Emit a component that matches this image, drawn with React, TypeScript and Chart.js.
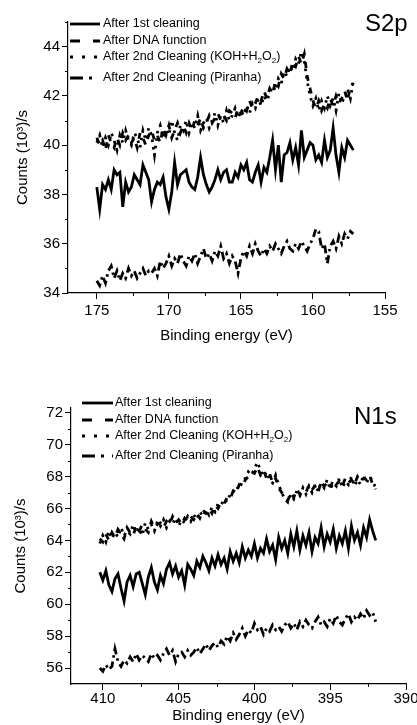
import React, { useEffect, useRef } from "react";
import { Chart, registerables } from "chart.js";

Chart.register(...registerables);

const FONT = '"Liberation Sans", Arial, Helvetica, sans-serif';

const SERIES_LABELS = [
  "After 1st cleaning",
  "After DNA function",
  "After 2nd Cleaning (KOH+H₂O₂)",
  "After 2nd Cleaning (Piranha)",
];
const LEGEND_DASH: number[][] = [[], [10, 13], [3, 9], [13, 6, 3, 8]];
const DATA_DASH: number[][] = [[], [6, 7], [2.5, 5], [8, 4, 2.5, 4]];

// ---------------- S2p ----------------
const S2P_START = 175.0;
const S2P_STEP = 0.2;
const S2P_FIRST = [
  38.3, 37.4, 38.4, 38.2, 38.6, 38.2, 39.0, 38.8, 38.9, 37.5,
  38.5, 38.1, 38.3, 38.8, 38.6, 38.4, 39.2, 38.9, 38.6, 37.7,
  38.2, 38.5, 38.4, 38.7, 37.9, 37.4, 38.1, 39.3, 38.4, 38.8,
  38.9, 39.0, 38.5, 38.3, 38.2, 38.7, 39.5, 38.8, 38.4, 38.1,
  38.3, 38.6, 39.0, 38.6, 38.9, 39.0, 38.5, 38.5, 38.9, 38.7,
  39.2, 39.0, 39.3, 38.6, 38.5, 38.9, 39.2, 38.5, 39.1, 38.9,
  39.5, 40.2, 39.0, 40.0, 38.5, 39.6, 39.7, 40.1, 39.4, 39.9,
  39.2, 40.6, 39.5, 39.8, 40.1, 40.0, 39.4, 39.6, 39.3, 40.2,
  39.5, 39.8, 40.7, 39.6, 38.9, 39.9, 39.5, 40.2, 40.0, 39.8,
];
const S2P_DNA = [
  40.3, 40.0, 40.2, 39.8, 40.4, 40.1, 39.9, 40.3, 40.0, 40.5,
  40.2, 40.4, 40.1, 40.3, 39.9, 40.5, 40.3, 40.0, 40.4, 40.6,
  40.2, 40.4, 40.1, 40.7, 40.4, 40.8, 40.3, 40.6, 40.9, 40.5,
  40.8, 40.5, 40.9, 40.6, 41.0, 40.8, 41.1, 40.7, 40.9, 41.2,
  40.9, 41.1, 41.3, 41.0, 41.2, 41.0, 41.4, 41.3, 41.1, 41.5,
  41.3, 41.6, 41.4, 41.8, 41.5, 41.7, 42.0, 41.8, 42.2, 41.9,
  42.3, 42.1, 42.6, 42.4, 42.9, 42.7, 43.1, 42.9, 43.4, 43.2,
  43.6, 43.3, 43.7, 42.8, 42.3, 41.8, 41.5, 41.8, 41.4, 41.7,
  41.5, 41.9, 41.6, 42.0, 41.7, 41.9, 42.2, 41.8, 42.4, 42.5,
];
const S2P_KOH = [
  40.1, 40.4, 39.9, 40.3, 40.0, 40.5, 40.2, 39.8, 40.4, 40.1,
  40.6, 40.2, 40.0, 40.5, 40.3, 39.9, 40.6, 40.2, 40.7, 40.4,
  39.6, 40.5, 40.8, 40.3, 40.6, 40.4, 41.0, 40.5, 40.2, 40.8,
  40.6, 41.0, 40.5, 40.9, 40.7, 41.2, 40.6, 40.9, 41.1, 40.7,
  41.0, 41.3, 40.8, 41.2, 40.9, 41.4, 41.0, 41.2, 41.5, 41.1,
  41.4, 41.2, 41.6, 41.3, 41.7, 41.5, 41.9, 41.6, 42.0, 41.8,
  42.1, 42.4, 42.2, 42.7, 42.5, 43.0, 42.8, 43.2, 43.0, 43.5,
  43.3, 43.8, 43.4, 42.6, 42.0, 41.6, 41.9, 41.4, 41.8, 41.5,
  42.0, 41.6, 41.9, 41.4, 42.1, 41.7, 42.0, 42.3, 41.9, 42.6,
];
const S2P_PIRANHA = [
  34.5, 34.3, 34.7, 34.4, 34.9, 35.1, 34.6, 34.9, 34.5, 34.8,
  34.6, 35.0, 34.7, 34.9, 34.6, 34.8, 35.0, 34.7, 34.9, 34.8,
  35.0, 34.7, 35.3, 35.0, 35.2, 35.5, 35.1, 35.4, 35.2, 35.6,
  35.3, 35.1, 35.5, 35.3, 35.6, 35.2, 35.5, 35.8, 35.4, 35.6,
  35.3, 35.7, 35.5, 35.9, 35.4, 35.6, 35.2, 35.5, 35.3, 34.8,
  35.4, 35.7, 35.5, 35.9, 35.6, 36.0, 35.7, 35.5, 35.8, 35.6,
  35.9, 35.7, 36.0, 35.8, 35.6, 35.9, 36.1, 35.8, 35.7, 36.0,
  35.8, 36.1, 35.9, 35.7, 36.0, 36.2, 36.6, 36.5, 35.8, 36.0,
  35.2, 35.9, 36.1, 35.8, 36.3, 36.0, 36.4, 36.2, 36.5, 36.4,
];
const S2P_XTICKS = [175, 170, 165, 160, 155];
const S2P_XMINOR = [172.5, 167.5, 162.5, 157.5];
const S2P_YTICKS = [34, 36, 38, 40, 42, 44];
const S2P_YMINOR = [35, 37, 39, 41, 43, 45];

// ---------------- N1s ----------------
const N1S_START = 410.2;
const N1S_STEP = 0.2;
const N1S_FIRST = [
  62.0, 61.5, 62.1, 61.2, 60.8, 61.6, 61.9, 61.0, 60.2, 61.4,
  61.8, 61.1, 61.9, 62.0, 61.3, 60.6, 61.7, 62.3, 61.4, 60.9,
  61.8, 61.3, 62.2, 62.6, 61.9, 62.4, 61.7, 62.1, 61.2, 62.5,
  62.2, 61.8, 62.7, 62.3, 63.0, 62.6, 62.1, 62.9, 62.4, 63.1,
  62.5, 62.9, 62.2, 63.3, 62.7, 63.2, 62.6, 63.6, 62.9, 63.4,
  63.0, 63.8, 62.9, 63.5, 63.2, 64.1, 63.3, 63.7, 62.8, 64.2,
  63.5, 64.0, 63.2, 64.4, 63.6, 64.6, 63.4, 64.3, 63.7, 64.5,
  63.3, 64.2, 63.8, 64.8, 63.6, 64.4, 63.9, 64.7, 63.5, 64.3,
  63.8, 64.6, 63.5, 64.9, 64.0, 64.5, 63.7, 64.8, 64.2, 65.3,
  64.6, 64.0,
];
const N1S_DNA = [
  64.1, 63.9, 64.4, 64.0, 64.5, 64.2, 64.7, 64.4, 64.1, 64.8,
  64.5, 64.3, 64.9, 64.6, 65.0, 64.7, 64.5, 65.2, 64.8, 65.0,
  65.1, 64.8, 65.2, 65.0, 65.5, 65.1, 65.3, 65.0, 65.4, 65.2,
  65.5, 65.3, 65.7, 65.4, 65.9, 65.7, 66.0, 65.7, 66.2, 66.0,
  66.4, 66.3, 66.7, 66.6, 67.1, 67.0, 67.5, 67.4, 67.8, 68.0,
  68.3, 68.2, 68.6, 68.1, 68.4, 67.9, 68.2, 67.6, 67.9, 67.3,
  67.0, 66.8, 66.5, 67.0, 66.7, 67.2, 66.9, 67.1, 67.0, 67.5,
  67.2, 67.4, 67.0, 67.7, 67.4, 67.6, 67.3, 67.8, 67.5, 67.7,
  67.4, 67.9, 67.6, 67.8, 67.5, 68.0, 67.7, 67.9, 67.8, 68.1,
  67.5, 67.2,
];
const N1S_KOH = [
  63.8, 64.3, 63.9, 64.6, 64.1, 64.5, 64.2, 64.8, 64.3, 64.6,
  64.4, 65.0, 64.5, 64.8, 64.3, 65.1, 64.7, 65.0, 64.6, 65.2,
  64.9, 65.3, 64.8, 65.2, 65.0, 65.4, 64.9, 65.3, 65.1, 65.5,
  65.2, 65.6, 65.3, 65.8, 65.5, 65.9, 65.6, 66.1, 65.8, 66.3,
  66.2, 66.6, 66.4, 66.9, 67.0, 67.4, 67.2, 67.7, 67.9, 68.3,
  68.1, 68.5, 68.9, 68.4, 68.0, 68.3, 67.8, 67.6, 68.1, 67.5,
  67.0, 66.6, 66.4, 66.9, 66.6, 67.1, 66.8, 67.3, 66.9, 67.4,
  67.0, 67.5, 67.1, 67.6, 67.3, 67.8, 67.2, 67.6, 67.4, 67.9,
  67.3, 67.7, 67.5, 68.0, 67.4, 67.8, 67.5, 68.1, 67.6, 68.0,
  67.7, 67.3,
];
const N1S_PIRANHA = [
  56.0, 55.8, 56.2, 55.9, 56.1, 57.2, 56.4, 56.1, 56.5, 56.3,
  56.7, 56.4, 56.9, 56.5, 56.8, 56.6, 56.4, 56.9, 56.6, 56.8,
  56.5, 56.9, 57.2, 56.8, 57.1, 56.4, 56.9, 57.0, 56.7, 57.1,
  56.8, 57.0, 57.3, 56.9, 57.2, 57.5, 57.1, 57.4, 57.6, 57.3,
  57.7, 57.5, 58.0, 57.7, 58.2, 57.8, 58.1, 58.5, 58.0, 58.4,
  58.2, 58.8, 58.4, 58.6, 58.1, 58.5, 58.3, 58.7, 58.4, 58.6,
  58.3, 58.7, 58.9, 58.5, 58.8, 58.4, 58.9, 58.6, 59.0, 58.7,
  58.5, 58.9, 59.2, 58.7, 58.9, 58.6, 59.1, 58.8, 59.3, 58.9,
  58.7, 59.1, 59.4, 58.9, 59.2, 59.0, 59.4, 59.1, 59.6, 59.3,
  59.5, 58.9,
];
const N1S_XTICKS = [410, 405, 400, 395, 390];
const N1S_XMINOR = [407.5, 402.5, 397.5, 392.5];
const N1S_YTICKS = [56, 58, 60, 62, 64, 66, 68, 70, 72];
const N1S_YMINOR = [57, 59, 61, 63, 65, 67, 69, 71];

type PanelSpec = {
  height: number;
  series: number[][];
  start: number;
  step: number;
  xMin: number;
  xMax: number;
  yMin: number;
  yMax: number;
  xTicks: number[];
  xMinor: number[];
  yTicks: number[];
  yMinor: number[];
  padTop: number;
  padRight: number;
  yWidth: number;
  xHeight: number;
  xTitlePad: number;
  yTitlePad: number;
  xTickPad: number;
  legend: { x0: number; x1: number; tx: number; rows: number[] };
  label: { text: string; x: number; y: number };
};

const SPECS: PanelSpec[] = [
  {
    height: 360,
    series: [S2P_FIRST, S2P_DNA, S2P_KOH, S2P_PIRANHA],
    start: S2P_START,
    step: S2P_STEP,
    xMin: 155,
    xMax: 177,
    yMin: 34,
    yMax: 45,
    xTicks: S2P_XTICKS,
    xMinor: S2P_XMINOR,
    yTicks: S2P_YTICKS,
    yMinor: S2P_YMINOR,
    padTop: 22,
    padRight: 32,
    yWidth: 68,
    xHeight: 67,
    xTitlePad: 15,
    yTitlePad: 14,
    xTickPad: 3,
    legend: { x0: 70, x1: 100, tx: 103, rows: [24, 41, 57, 78] },
    label: { text: "S2p", x: 365, y: 31 },
  },
  {
    height: 365,
    series: [N1S_FIRST, N1S_DNA, N1S_KOH, N1S_PIRANHA],
    start: N1S_START,
    step: N1S_STEP,
    xMin: 390,
    xMax: 412.1,
    yMin: 55,
    yMax: 72.3,
    xTicks: N1S_XTICKS,
    xMinor: N1S_XMINOR,
    yTicks: N1S_YTICKS,
    yMinor: N1S_YMINOR,
    padTop: 48,
    padRight: 11,
    yWidth: 71,
    xHeight: 41,
    xTitlePad: 0,
    yTitlePad: 11.5,
    xTickPad: 0,
    legend: { x0: 82, x1: 113, tx: 115, rows: [43, 60, 76, 96] },
    label: { text: "N1s", x: 354, y: 64 },
  },
];

function drawRichText(ctx: CanvasRenderingContext2D, text: string, x: number, y: number, size: number) {
  let cx = x;
  let run = "";
  const flush = () => {
    if (!run) return;
    ctx.font = `${size}px ${FONT}`;
    ctx.fillText(run, cx, y);
    cx += ctx.measureText(run).width;
    run = "";
  };
  for (const ch of text) {
    if (ch === "₂") {
      flush();
      ctx.font = `${Math.round(size * 0.65)}px ${FONT}`;
      ctx.fillText("2", cx, y + 4);
      cx += ctx.measureText("2").width;
    } else {
      run += ch;
    }
  }
  flush();
}

function makeOverlay(spec: PanelSpec) {
  return {
    id: "overlay",
    afterDraw(chart: any) {
      const ctx: CanvasRenderingContext2D = chart.ctx;
      const xs = chart.scales.x;
      const ys = chart.scales.y;
      const area = chart.chartArea;
      ctx.save();
      ctx.strokeStyle = "#000";
      ctx.lineWidth = 1;
      ctx.setLineDash([]);
      for (const v of spec.yMinor) {
        const py = Math.round(ys.getPixelForValue(v)) + 0.5;
        ctx.beginPath();
        ctx.moveTo(area.left - 3, py);
        ctx.lineTo(area.left, py);
        ctx.stroke();
      }
      for (const v of spec.xMinor) {
        const px = Math.round(xs.getPixelForValue(v)) + 0.5;
        ctx.beginPath();
        ctx.moveTo(px, area.bottom);
        ctx.lineTo(px, area.bottom + 3);
        ctx.stroke();
      }
      const lg = spec.legend;
      ctx.fillStyle = "#000";
      ctx.textBaseline = "middle";
      ctx.textAlign = "left";
      SERIES_LABELS.forEach((label, i) => {
        const y = lg.rows[i];
        ctx.save();
        ctx.lineWidth = 2.8;
        ctx.lineCap = "butt";
        ctx.setLineDash(LEGEND_DASH[i]);
        ctx.beginPath();
        ctx.moveTo(lg.x0, y);
        ctx.lineTo(lg.x1, y);
        ctx.stroke();
        ctx.restore();
        drawRichText(ctx, label, lg.tx, y, 12.5);
      });
      ctx.font = `24px ${FONT}`;
      ctx.textBaseline = "alphabetic";
      ctx.fillText(spec.label.text, spec.label.x, spec.label.y);
      ctx.restore();
    },
  };
}

function Panel({ spec }: { spec: PanelSpec }) {
  const ref = useRef<HTMLCanvasElement>(null);
  useEffect(() => {
    const canvas = ref.current!;
    const datasets = spec.series.map((vals, i) => ({
      label: SERIES_LABELS[i],
      data: vals.map((v, j) => ({ x: spec.start - j * spec.step, y: v })),
      borderColor: "#000",
      backgroundColor: "#000",
      borderWidth: 2.8,
      borderDash: DATA_DASH[i],
      pointRadius: 0,
      tension: 0,
      fill: false,
    }));
    const tickFont = { family: FONT, size: 15 };
    const chart = new Chart(canvas, {
      type: "line",
      data: { datasets },
      options: {
        responsive: false,
        animation: false,
        devicePixelRatio: 1,
        layout: { padding: { top: spec.padTop, right: spec.padRight, left: 0, bottom: 0 } },
        plugins: { legend: { display: false }, tooltip: { enabled: false } },
        scales: {
          x: {
            type: "linear",
            reverse: true,
            min: spec.xMin,
            max: spec.xMax,
            afterBuildTicks: (s: any) => {
              s.ticks = spec.xTicks.map((v) => ({ value: v }));
            },
            afterFit: (s: any) => {
              s.height = spec.xHeight;
              s.paddingLeft = 0;
              s.paddingRight = 0;
            },
            grid: { drawOnChartArea: false, tickLength: 6, color: "#000", lineWidth: 1 },
            border: { color: "#000", width: 1.2 },
            ticks: {
              color: "#000",
              font: tickFont,
              padding: spec.xTickPad,
              maxRotation: 0,
              autoSkip: false,
            },
            title: {
              display: true,
              text: "Binding energy (eV)",
              color: "#000",
              font: { family: FONT, size: 15 },
              padding: { top: 0, bottom: spec.xTitlePad },
            },
          },
          y: {
            type: "linear",
            min: spec.yMin,
            max: spec.yMax,
            afterBuildTicks: (s: any) => {
              s.ticks = spec.yTicks.map((v) => ({ value: v }));
            },
            afterFit: (s: any) => {
              s.width = spec.yWidth;
              s.paddingTop = 0;
              s.paddingBottom = 0;
            },
            grid: { drawOnChartArea: false, tickLength: 6, color: "#000", lineWidth: 1 },
            border: { color: "#000", width: 1.2 },
            ticks: { color: "#000", font: tickFont, padding: 2, autoSkip: false },
            title: {
              display: true,
              text: "Counts (10³)/s",
              color: "#000",
              font: { family: FONT, size: 15 },
              padding: { top: spec.yTitlePad, bottom: 0 },
            },
          },
        },
      } as any,
      plugins: [makeOverlay(spec)],
    });
    return () => chart.destroy();
  }, [spec]);
  return (
    <canvas
      ref={ref}
      width={417}
      height={spec.height}
      style={{ display: "block", width: 417, height: spec.height }}
    />
  );
}

export default function App() {
  return (
    <div
      style={{
        position: "fixed",
        left: 0,
        top: 0,
        width: 417,
        height: 725,
        background: "#fff",
        overflow: "hidden",
      }}
    >
      {SPECS.map((s, i) => (
        <Panel key={i} spec={s} />
      ))}
    </div>
  );
}
